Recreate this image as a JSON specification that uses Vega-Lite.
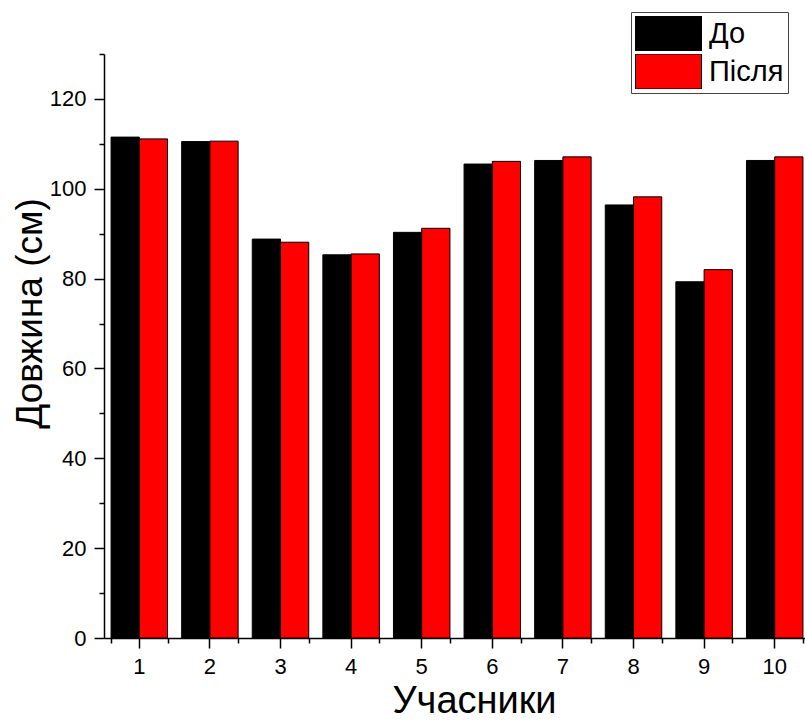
{
  "$schema": "https://vega.github.io/schema/vega-lite/v6.json",
  "width": 706,
  "height": 584,
  "autosize": {"type": "none"},
  "padding": {"left": 104, "top": 54, "right": 0, "bottom": 89},
  "background": "white",
  "config": {
    "view": {"stroke": null},
    "font": "Liberation Sans",
    "axis": {"grid": false, "domainColor": "#000", "tickColor": "#000", "labelColor": "#000", "titleColor": "#000", "domainWidth": 1.5, "tickWidth": 1.5, "titleFontWeight": "normal", "labelFont": "Liberation Sans", "titleFont": "Liberation Sans"}
  },
  "data": {
    "values": [
      {"p": "1", "g": "До", "v": 111.5}, {"p": "1", "g": "Після", "v": 111.1},
      {"p": "2", "g": "До", "v": 110.5}, {"p": "2", "g": "Після", "v": 110.6},
      {"p": "3", "g": "До", "v": 88.8}, {"p": "3", "g": "Після", "v": 88.1},
      {"p": "4", "g": "До", "v": 85.3}, {"p": "4", "g": "Після", "v": 85.5},
      {"p": "5", "g": "До", "v": 90.3}, {"p": "5", "g": "Після", "v": 91.2},
      {"p": "6", "g": "До", "v": 105.5}, {"p": "6", "g": "Після", "v": 106.1},
      {"p": "7", "g": "До", "v": 106.3}, {"p": "7", "g": "Після", "v": 107.1},
      {"p": "8", "g": "До", "v": 96.4}, {"p": "8", "g": "Після", "v": 98.2},
      {"p": "9", "g": "До", "v": 79.3}, {"p": "9", "g": "Після", "v": 82.0},
      {"p": "10", "g": "До", "v": 106.3}, {"p": "10", "g": "Після", "v": 107.1}
    ]
  },
  "resolve": {"axis": {"x": "independent", "y": "independent"}},
  "layer": [
    {
      "mark": {"type": "bar", "stroke": "#000", "strokeWidth": 1},
      "encoding": {
        "x": {
          "field": "p", "type": "ordinal",
          "sort": ["1","2","3","4","5","6","7","8","9","10"],
          "scale": {"paddingInner": 0.2, "paddingOuter": 0.1},
          "axis": {"orient": "bottom", "title": "Учасники", "labelAngle": 0, "labelFontSize": 22, "tickSize": 10, "labelPadding": 8, "titleFontSize": 38, "titlePadding": 5, "titleX": 370}
        },
        "xOffset": {"field": "g", "type": "nominal", "scale": {"domain": ["До", "Після"], "paddingInner": 0, "paddingOuter": 0}},
        "y": {
          "field": "v", "type": "quantitative",
          "scale": {"domain": [0, 130], "nice": false, "zero": true},
          "axis": {"orient": "left", "title": "Довжина (см)", "values": [0, 20, 40, 60, 80, 100, 120], "labelFontSize": 22, "tickSize": 10, "labelPadding": 8, "titleFontSize": 37, "titlePadding": 0, "titleY": 259}
        },
        "color": {
          "field": "g", "type": "nominal",
          "scale": {"domain": ["До", "Після"], "range": ["#000000", "#ff0000"]},
          "legend": {
            "title": null, "orient": "none", "legendX": 527, "legendY": -42,
            "symbolType": "M-1,-0.53H1V0.53H-1Z", "symbolSize": 4356, "clipHeight": 35,
            "rowPadding": 3, "labelFontSize": 29, "labelOffset": 7, "labelFont": "Liberation Sans", "labelColor": "#000",
            "padding": 4, "strokeColor": "#444", "symbolStrokeColor": "#000", "symbolStrokeWidth": 1, "symbolOpacity": 1
          }
        }
      }
    },
    {
      "mark": {"type": "bar", "opacity": 0},
      "encoding": {
        "x": {
          "field": "p", "type": "ordinal",
          "sort": ["1","2","3","4","5","6","7","8","9","10"],
          "axis": {"orient": "bottom", "title": null, "labels": false, "domain": false, "tickBand": "extent", "tickSize": 5}
        },
        "xOffset": {"field": "g", "type": "nominal"},
        "y": {
          "field": "v", "type": "quantitative",
          "axis": {"orient": "left", "title": null, "labels": false, "domain": false, "values": [10, 30, 50, 70, 90, 110, 130], "tickSize": 5}
        }
      }
    }
  ]
}
